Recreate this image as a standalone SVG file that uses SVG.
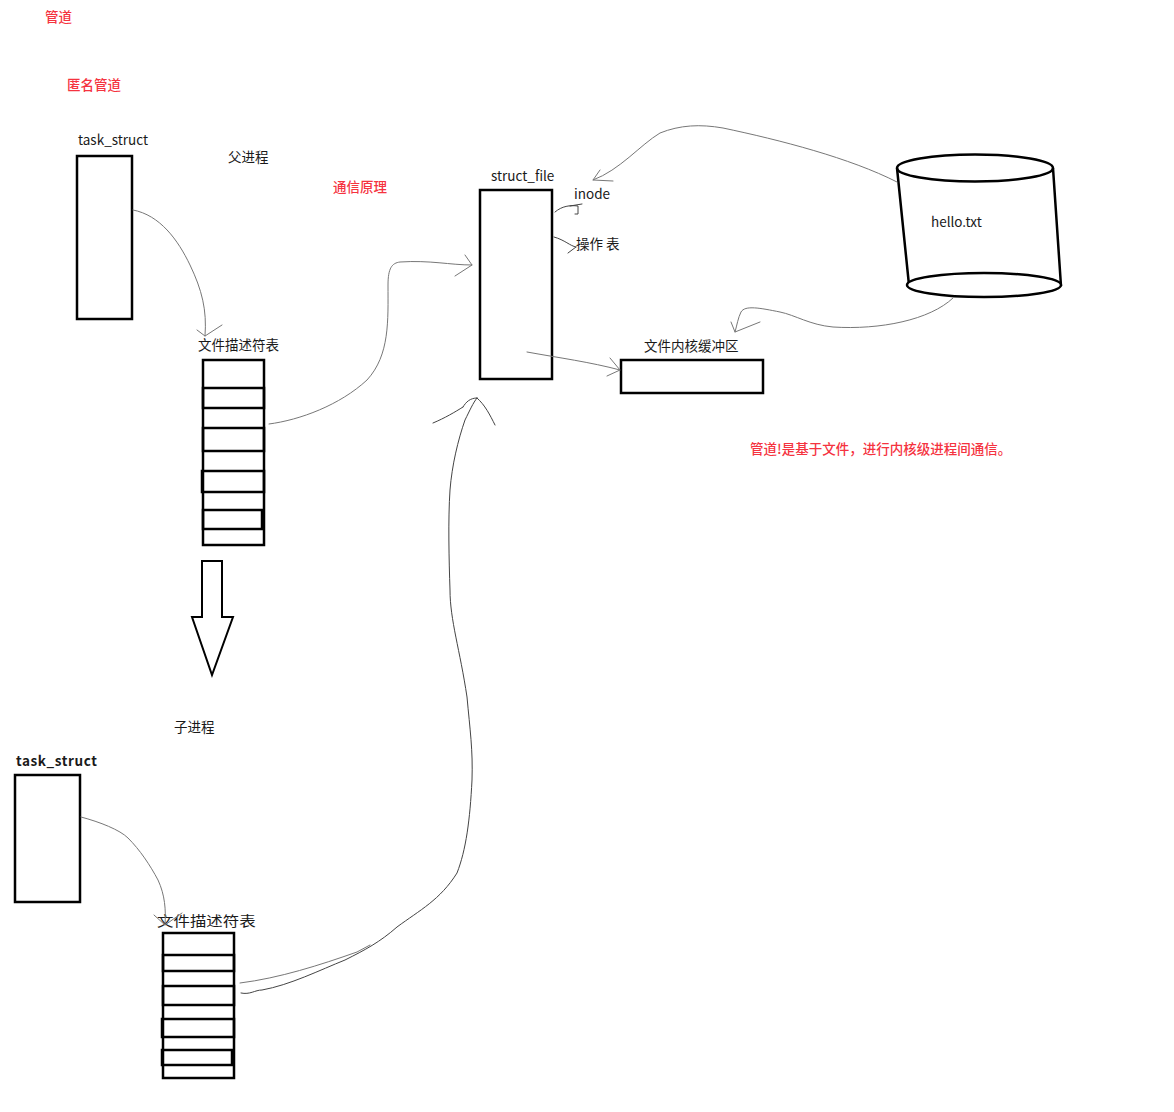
<svg xmlns="http://www.w3.org/2000/svg" width="1174" height="1112" viewBox="0 0 1174 1112">
<style>
.t{font-family:"Noto Sans CJK SC","Noto Sans",sans-serif;font-size:13.5px;fill:#1a1a1a}
.r{font-family:"Noto Sans CJK SC","Noto Sans",sans-serif;font-size:13.5px;font-weight:500;fill:#f5333f}
.box{fill:#fff;stroke:#000;stroke-width:2.5}
.row{fill:none;stroke:#000;stroke-width:2.5}
.c{fill:none;stroke:#777;stroke-width:1;stroke-linecap:round;stroke-linejoin:round}
.cd{fill:none;stroke:#444;stroke-width:1;stroke-linecap:round;stroke-linejoin:round}
</style>
<rect width="1174" height="1112" fill="#fff"/>
<g id="titles">
<text class="r" x="45" y="22">管道</text>
<text class="r" x="67" y="90">匿名管道</text>
<text class="r" x="333" y="192">通信原理</text>
<text class="r" x="750" y="454">管道!是基于文件，进行内核级进程间通信。</text>
<text class="t" x="228" y="162">父进程</text>
<text class="t" x="174" y="732">子进程</text>
</g>
<g id="parent-task">
<text class="t" x="78" y="145">task_struct</text>
<rect class="box" x="77" y="156" width="55" height="163"/>
</g>
<g id="parent-fd">
<text class="t" x="198" y="350">文件描述符表</text>
<rect class="box" x="203" y="360" width="61" height="185" stroke-width="2"/>
<rect class="row" x="203" y="388" width="61" height="20"/>
<rect class="row" x="203" y="428" width="61" height="23"/>
<rect class="row" x="202" y="471" width="62" height="21"/>
<rect class="row" x="203" y="510" width="59" height="19"/>
</g>
<g id="struct-file">
<text class="t" x="491" y="181">struct_file</text>
<rect class="box" x="480" y="190" width="72" height="189"/>
<text class="t" x="574" y="199">inode</text>
<text class="t" x="576" y="249">操作 表</text>
</g>
<g id="buffer">
<text class="t" x="644" y="351">文件内核缓冲区</text>
<rect class="box" x="621" y="360" width="142" height="33"/>
</g>
<g id="hello">
<path d="M897,168 L909,285 M1053,168 L1061,286" fill="none" stroke="#000" stroke-width="2.5"/>
<ellipse cx="975" cy="168" rx="78" ry="13.5" fill="none" stroke="#000" stroke-width="2.5"/>
<ellipse cx="984" cy="285" rx="77" ry="12" fill="#fff" stroke="#000" stroke-width="2.5"/>
<text class="t" x="931" y="227" fill="#333">hello.txt</text>
</g>
<g id="arrow-down">
<path d="M202,561 L222,561 L222,617 L233,617 L212,675 L192,617 L202,617 Z" fill="#fff" stroke="#000" stroke-width="2"/>
</g>
<g id="child-task">
<text class="t" x="16" y="766" font-size="12" font-weight="600" letter-spacing="0.6" fill="#444">task_struct</text>
<rect class="box" x="15" y="775" width="65" height="127"/>
</g>
<g id="child-fd">
<text class="t" transform="translate(157,926) scale(1.22,1)" x="0" y="0" font-size="13" fill="#444">文件描述符表</text>
<rect class="box" x="163" y="933" width="71" height="145" stroke-width="2"/>
<rect class="row" x="163" y="955" width="71" height="16"/>
<rect class="row" x="163" y="986" width="71" height="19"/>
<rect class="row" x="162" y="1019" width="72" height="18"/>
<rect class="row" x="162" y="1050" width="70" height="15"/>
</g>
<g id="connectors">
<path class="c" d="M133,210 C160,215 178,240 190,265 C202,290 207,310 205,336 M197,330 L205,336 L222,325"/>
<path class="c" d="M269,424 C300,420 340,405 367,380 C390,355 388,320 388,285 C388,268 392,263 400,262 C430,260 450,265 472,265 M465,255 L472,265 L455,276"/>
<path class="cd" d="M555,212 C562,206 570,205 578,206 L578,214 L575,214 M570,206 L582,204"/>
<path class="cd" d="M554,237 C565,240 570,246 576,247 M568,253 L576,247"/>
<path class="c" d="M527,352 C560,358 590,362 620,370 M610,358 L620,370 L607,376"/>
<path class="c" d="M897,182 C850,158 780,140 723,128 C700,124 680,125 660,133 C640,145 620,170 593,180 M600,170 L593,180 L613,181"/>
<path class="c" d="M953,298 C930,320 880,330 833,327 C810,325 795,315 780,312 C760,308 745,305 741,312 C738,318 737,325 735,332 M731,322 L735,332 L760,322"/>
<path class="c" d="M81,817 C100,822 120,830 128,838 C140,850 150,865 158,880 C165,895 166,910 165,925 M154,915 L165,925 L182,913"/>
<path class="c" d="M240,983 C280,978 320,965 357,952 L370,945"/>
<path class="cd" d="M241,993 C250,995 255,990 262,990 C290,985 320,970 345,960 C365,950 380,942 397,927 C420,910 440,900 457,873 C466,850 470,820 472,780 C473,750 470,730 467,697 C460,650 450,620 450,590 C449,560 448,520 450,490 C452,465 458,440 465,420 C470,410 473,403 477,398 M463,407 C455,412 445,418 433,423 M477,398 C470,398 466,402 463,407 M477,398 C485,405 490,415 495,425"/>
</g>
</svg>
